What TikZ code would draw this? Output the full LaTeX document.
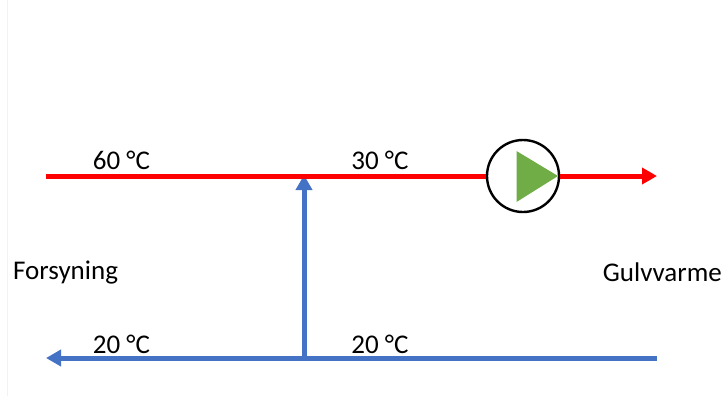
\documentclass[tikz,border=0pt]{standalone}
\usepackage{fontspec}
\setmainfont{Carlito}
\usetikzlibrary{arrows.meta, positioning}
\definecolor{cblue}{HTML}{4472C4}
\definecolor{cred}{HTML}{FF0000}
\definecolor{cgreen}{HTML}{70AD47}
\definecolor{cedge}{HTML}{F2F2F2}
\tikzset{
  pipe/.style={draw=#1, line width=5bp},
  arrow/.style={pipe=#1, -{Triangle[length=15bp, width=16bp]}},
  temp/.style={font=\fontsize{27bp}{30bp}\selectfont, inner sep=0pt},
  side/.style={font=\fontsize{27bp}{30bp}\selectfont, inner sep=0pt},
  pump/.style={circle, draw=black, fill=white, line width=2.4bp, minimum size=72bp, inner sep=0pt},
}
\begin{document}
\begin{tikzpicture}[x=1bp, y=1bp]
  \useasboundingbox (0,0) rectangle (724,-396);
  \draw[cedge, line width=1bp] (7.5,0) -- (7.5,-396);
  % pipe ends
  \coordinate (supplyin) at (46,-176);
  \coordinate (floorout) at (657,-176);
  \coordinate (floorback) at (657,-358);
  \coordinate (supplyback) at (46,-358);
  \coordinate (mixtop) at (304,-175);
  \coordinate (mixbottom) at (304,-358);
  \node[pump] (pump) at (523,-176) {};
  % return line and mixing branch
  \draw[arrow=cblue] (floorback) -- (supplyback);
  \draw[arrow=cblue] (mixbottom) -- (mixtop);
  % supply line
  \draw[pipe=cred] (supplyin) -- (pump.west);
  \draw[arrow=cred] (pump.east) -- (floorout);
  \fill[cgreen] (516.5,-151) -- (558,-176) -- (516.5,-202) -- cycle;
  \node[temp] (t60) at (121.5,-160) {60 °C};
  \node[temp] (t30) at (380,-160) {30 °C};
  \node[temp] (t20a) at (121.5,-344) {20 °C};
  \node[temp] (t20b) at (380,-344) {20 °C};
  \node[side, anchor=west] (forsyning) at (13,-272.5) {Forsyning};
  \node[side, anchor=east] (gulvvarme) at (722,-272.5) {Gulvvarme};
\end{tikzpicture}
\end{document}
